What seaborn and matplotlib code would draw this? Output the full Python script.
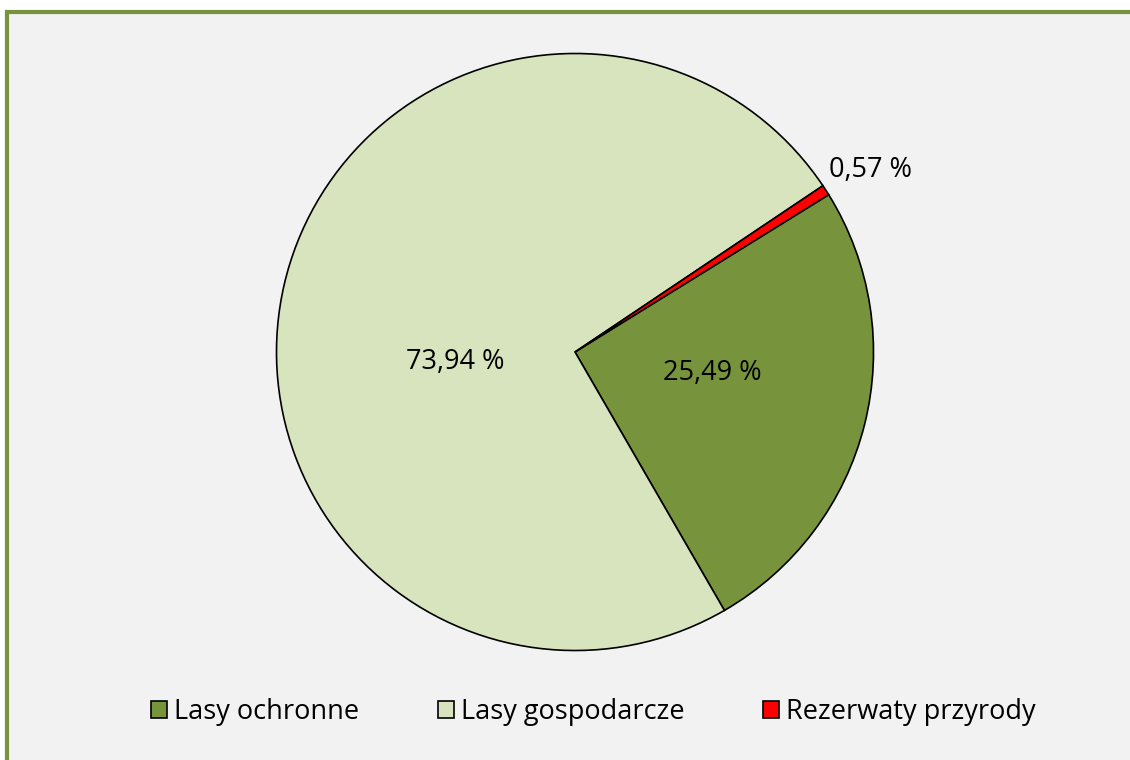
import matplotlib
matplotlib.use('Agg')
import matplotlib.pyplot as plt
import seaborn as sns
from matplotlib.patches import Rectangle

# Dane: udział kategorii lasów (%)
kategorie = ['Lasy ochronne', 'Lasy gospodarcze', 'Rezerwaty przyrody']
udzialy = [25.49, 73.94, 0.57]
kolory = ['#77933C', '#D7E4BD', '#FF0000']

# Położenie etykiet procentowych (współrzędne osi koła)
pozycje_etykiet = [(0.46, -0.07), (-0.40, -0.035), (0.99, 0.61)]

sns.set_style('white')
plt.rcParams['font.family'] = ['Open Sans', 'DejaVu Sans']
plt.rcParams['text.color'] = 'black'

fig = plt.figure(figsize=(11.3, 7.6), dpi=100)
fig.patch.set_facecolor('white')

# Tło i zielona ramka (pod wykresem)
fig.patches.append(Rectangle((7 / 1130, -0.05), 1.2, (760 - 12) / 760 + 0.05,
                             transform=fig.transFigure, facecolor='#F2F2F2',
                             edgecolor='#77933C', linewidth=3, zorder=-5))

ax = fig.add_axes([275 / 1130, (760 - 652) / 760, 600 / 1130, 600 / 760])
ax.set_facecolor('none')
ax.set_zorder(1)

wedges, _ = ax.pie(udzialy, colors=kolory, startangle=31.8, counterclock=False,
                   radius=1, wedgeprops=dict(edgecolor='black', linewidth=1.2))
ax.set_xlim(-1.005, 1.005)
ax.set_ylim(-1.005, 1.005)
ax.set_aspect('equal')
ax.axis('off')

for v, (x, y) in zip(udzialy, pozycje_etykiet):
    ax.text(x, y, f'{v:.2f}'.replace('.', ',') + ' %', ha='center', va='center',
            fontsize=19.5, color='black')

leg = fig.legend(wedges, kategorie, loc='center', bbox_to_anchor=(0.525, (760 - 712) / 760),
                 ncol=3, frameon=False, fontsize=19.5, handlelength=0.6, handleheight=0.6,
                 handletextpad=0.25, columnspacing=2.9)
for t in leg.get_texts():
    t.set_color('black')

plt.savefig('out.png', dpi=100, facecolor=fig.get_facecolor())
